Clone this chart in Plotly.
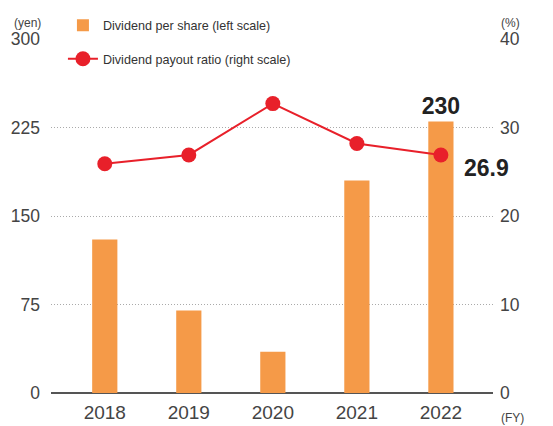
import plotly.graph_objects as go

years = ["2018", "2019", "2020", "2021", "2022"]
dividend = [130, 70, 35, 180, 230]
payout = [25.9, 26.9, 32.7, 28.2, 26.9]
bar_labels = ["", "", "", "", "230"]
left_ticks = [0, 75, 150, 225, 300]
right_ticks = [0, 10, 20, 30, 40]

FONT = "Liberation Sans"
xs = list(range(len(years)))

fig = go.Figure()
fig.add_trace(go.Bar(
    x=xs, y=dividend, name="Dividend per share (left scale)",
    marker=dict(color="#F59A48", line=dict(width=0)), width=0.3,
    text=bar_labels, textposition="outside", cliponaxis=False, constraintext="none",
    textfont=dict(family=FONT, size=23, color="#222222", weight="bold"),
    legendgroup="a", yaxis="y",
))
fig.add_trace(go.Scatter(
    x=xs, y=payout, name="Dividend payout ratio (right scale)",
    mode="lines+markers", line=dict(color="#E8202A", width=2),
    marker=dict(color="#E8202A", size=15), legendgroup="b", yaxis="y2",
))
fig.add_annotation(x=4, y=payout[-1], xref="x", yref="y2", text="<b>26.9</b>",
                   showarrow=False, xshift=46, yshift=-13,
                   font=dict(family=FONT, size=23, color="#222222"))
fig.add_annotation(x=0, y=1, xref="paper", yref="paper", text="(yen)", showarrow=False,
                   xanchor="right", yanchor="bottom", xshift=-8, yshift=7,
                   font=dict(family=FONT, size=12, color="#444444"))
fig.add_annotation(x=1, y=1, xref="paper", yref="paper", text="(%)", showarrow=False,
                   xanchor="left", yanchor="bottom", xshift=6, yshift=7,
                   font=dict(family=FONT, size=12, color="#444444"))
fig.add_annotation(x=1, y=0, xref="paper", yref="paper", text="(FY)", showarrow=False,
                   xanchor="left", yanchor="top", xshift=6, yshift=-16,
                   font=dict(family=FONT, size=12, color="#444444"))

fig.update_layout(
    width=545, height=418,
    margin=dict(l=43, r=60, t=31, b=33, autoexpand=False),
    plot_bgcolor="white", paper_bgcolor="white",
    font=dict(family=FONT, size=17.5, color="#444444"),
    xaxis=dict(range=[-0.64, 4.62], tickmode="array", tickvals=xs, ticktext=years,
               showgrid=False, zeroline=False, showline=False, ticks="",
               tickfont=dict(size=19), ticklabelstandoff=6),
    yaxis=dict(range=[0, 300], tickvals=left_ticks, showgrid=True,
               gridcolor="#aaaaaa", griddash="1px,2px", gridwidth=1,
               zeroline=True, zerolinecolor="#555555", zerolinewidth=1.5,
               showline=False, ticks="", ticklabelstandoff=10),
    yaxis2=dict(range=[0, 40], tickvals=right_ticks, overlaying="y", side="right",
                showgrid=False, zeroline=False, showline=False, ticks="",
                ticklabelstandoff=6),
    legend=dict(x=0.027, y=1.08, xanchor="left", yanchor="top",
                bgcolor="rgba(0,0,0,0)", font=dict(size=12.6, color="#333333"),
                traceorder="grouped", tracegroupgap=14),
    showlegend=True,
)

fig.write_html("out.html")
